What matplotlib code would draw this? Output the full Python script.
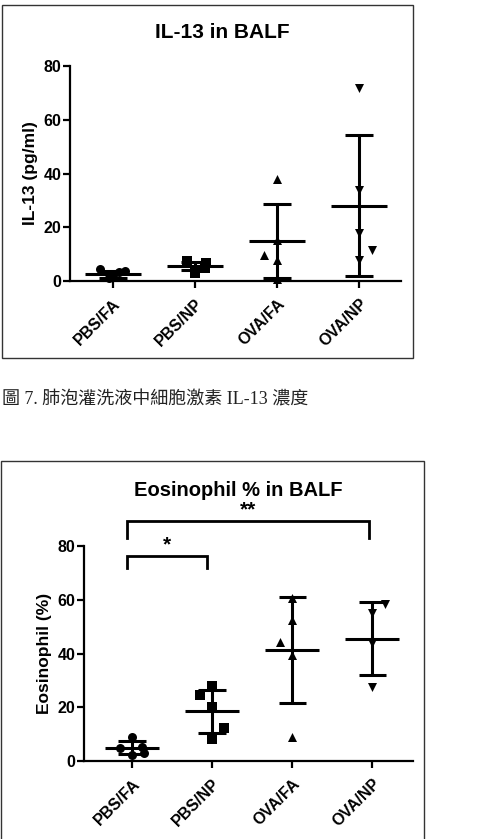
import matplotlib.pyplot as plt
from matplotlib.patches import Rectangle
import numpy as np

groups = ['PBS/FA', 'PBS/NP', 'OVA/FA', 'OVA/NP']
markers = ['o', 's', '^', 'v']

# IL-13 (pg/ml), individual animals, with x jitter
il13_pts = [[4.5, 3.8, 3.4, 1.4, 1.2],
            [7.4, 6.6, 5.0, 4.0, 3.0],
            [37.9, 15.2, 9.8, 8.0, 0.9],
            [71.7, 34.0, 17.9, 11.7, 7.7]]
il13_jit = [[-0.15, 0.15, 0.08, 0.0, -0.05],
            [-0.1, 0.13, 0.12, 0.0, 0.0],
            [0.0, 0.0, -0.16, 0.0, 0.0],
            [0.0, 0.0, 0.0, 0.16, 0.0]]
il13_mean = [2.7, 5.6, 14.8, 28.0]
il13_sd_lo = [1.3, 4.2, 1.0, 1.8]
il13_sd_hi = [3.9, 7.0, 28.6, 54.3]

# Eosinophil %
eos_pts = [[9.1, 5.3, 4.7, 2.9, 2.2],
           [27.9, 24.4, 20.2, 12.4, 8.1],
           [60.8, 52.5, 44.2, 39.5, 9.1],
           [58.4, 55.0, 44.0, 27.7]]
eos_jit = [[0.0, 0.12, -0.15, 0.15, 0.0],
           [0.0, -0.15, 0.0, 0.15, 0.0],
           [0.0, 0.0, -0.15, 0.0, 0.0],
           [0.16, 0.0, 0.0, 0.0]]
eos_mean = [4.7, 18.5, 41.3, 45.5]
eos_sd_lo = [2.5, 10.3, 21.7, 32.0]
eos_sd_hi = [7.4, 26.4, 61.2, 59.3]

W, H = 487, 839
fig = plt.figure(figsize=(W / 100, H / 100), dpi=100)


def px_axes(left, right, top, bottom):
    return fig.add_axes([left / W, 1 - bottom / H, (right - left) / W, (bottom - top) / H])


def draw_panel(ax, pts, jit, mean, lo, hi, ylabel, xlim):
    x = np.arange(len(groups))
    for i in range(len(groups)):
        ax.scatter(np.array(jit[i]) + i, pts[i], marker=markers[i], s=42,
                   color='black', zorder=3, clip_on=False, linewidths=0)
    ax.hlines(mean, x - 0.34, x + 0.34, color='black', lw=2.2)
    ax.vlines(x, lo, hi, color='black', lw=2.2)
    ax.hlines(lo, x - 0.17, x + 0.17, color='black', lw=2.2)
    ax.hlines(hi, x - 0.17, x + 0.17, color='black', lw=2.2)
    ax.set_xlim(*xlim)
    ax.set_ylim(0, 80)
    ax.set_yticks([0, 20, 40, 60, 80])
    ax.set_xticks(x)
    ax.set_xticklabels(groups, rotation=45, ha='right', va='top', rotation_mode='anchor',
                       fontsize=11.5, fontweight='bold', family='Liberation Sans')
    for t in ax.get_yticklabels():
        t.set_fontsize(11.5)
        t.set_fontweight('bold')
        t.set_family('Liberation Sans')
    for s in ['top', 'right']:
        ax.spines[s].set_visible(False)
    for s in ['left', 'bottom']:
        ax.spines[s].set_linewidth(1.6)
    ax.tick_params(width=1.6, length=5, pad=1)
    ax.tick_params(axis='x', pad=6)
    ax.set_ylabel(ylabel, fontsize=12.5, fontweight='bold', family='Liberation Sans', labelpad=4)


# panel frames
fig.patches.append(Rectangle((2 / W, 1 - 358 / H), 411 / W, 353 / H, transform=fig.transFigure,
                             fill=False, ec='#333333', lw=1.0))
fig.patches.append(Rectangle((1 / W, 1 - 845 / H), 423 / W, 384 / H, transform=fig.transFigure,
                             fill=False, ec='#333333', lw=1.0, clip_on=False))

ax1 = px_axes(70, 401, 66, 281)
draw_panel(ax1, il13_pts, il13_jit, il13_mean, il13_sd_lo, il13_sd_hi,
           'IL-13 (pg/ml)', (-0.52, 3.51))
fig.text(222 / W, 1 - 33 / H, 'IL-13 in BALF', ha='center', va='center',
         fontsize=15, fontweight='bold', family='Liberation Sans')

ax2 = px_axes(84, 413, 546, 761)
draw_panel(ax2, eos_pts, eos_jit, eos_mean, eos_sd_lo, eos_sd_hi,
           'Eosinophil (%)', (-0.6, 3.51))
fig.text(238 / W, 1 - 490 / H, 'Eosinophil % in BALF', ha='center', va='center',
         fontsize=14.5, fontweight='bold', family='Liberation Sans')

# significance brackets
for x0, x1, ytop, ybot, star in [(-0.06, 0.94, 76.3, 71.8, '*'), (-0.06, 2.96, 89.3, 83.0, '**')]:
    ax2.plot([x0, x0, x1, x1], [ybot, ytop, ytop, ybot], color='black', lw=2.0,
             clip_on=False, solid_joinstyle='miter')
    ax2.text((x0 + x1) / 2, ytop + 0.6, star, ha='center', va='bottom', fontsize=15,
             fontweight='bold', family='Liberation Sans', clip_on=False)

fig.text(2 / W, 1 - 400 / H, '圖 7. 肺泡灌洗液中細胞激素 IL-13 濃度', ha='left', va='center',
         fontsize=13, family=['Liberation Serif', 'Noto Sans CJK TC'], color='#222222')

fig.savefig('out.png', dpi=100)
